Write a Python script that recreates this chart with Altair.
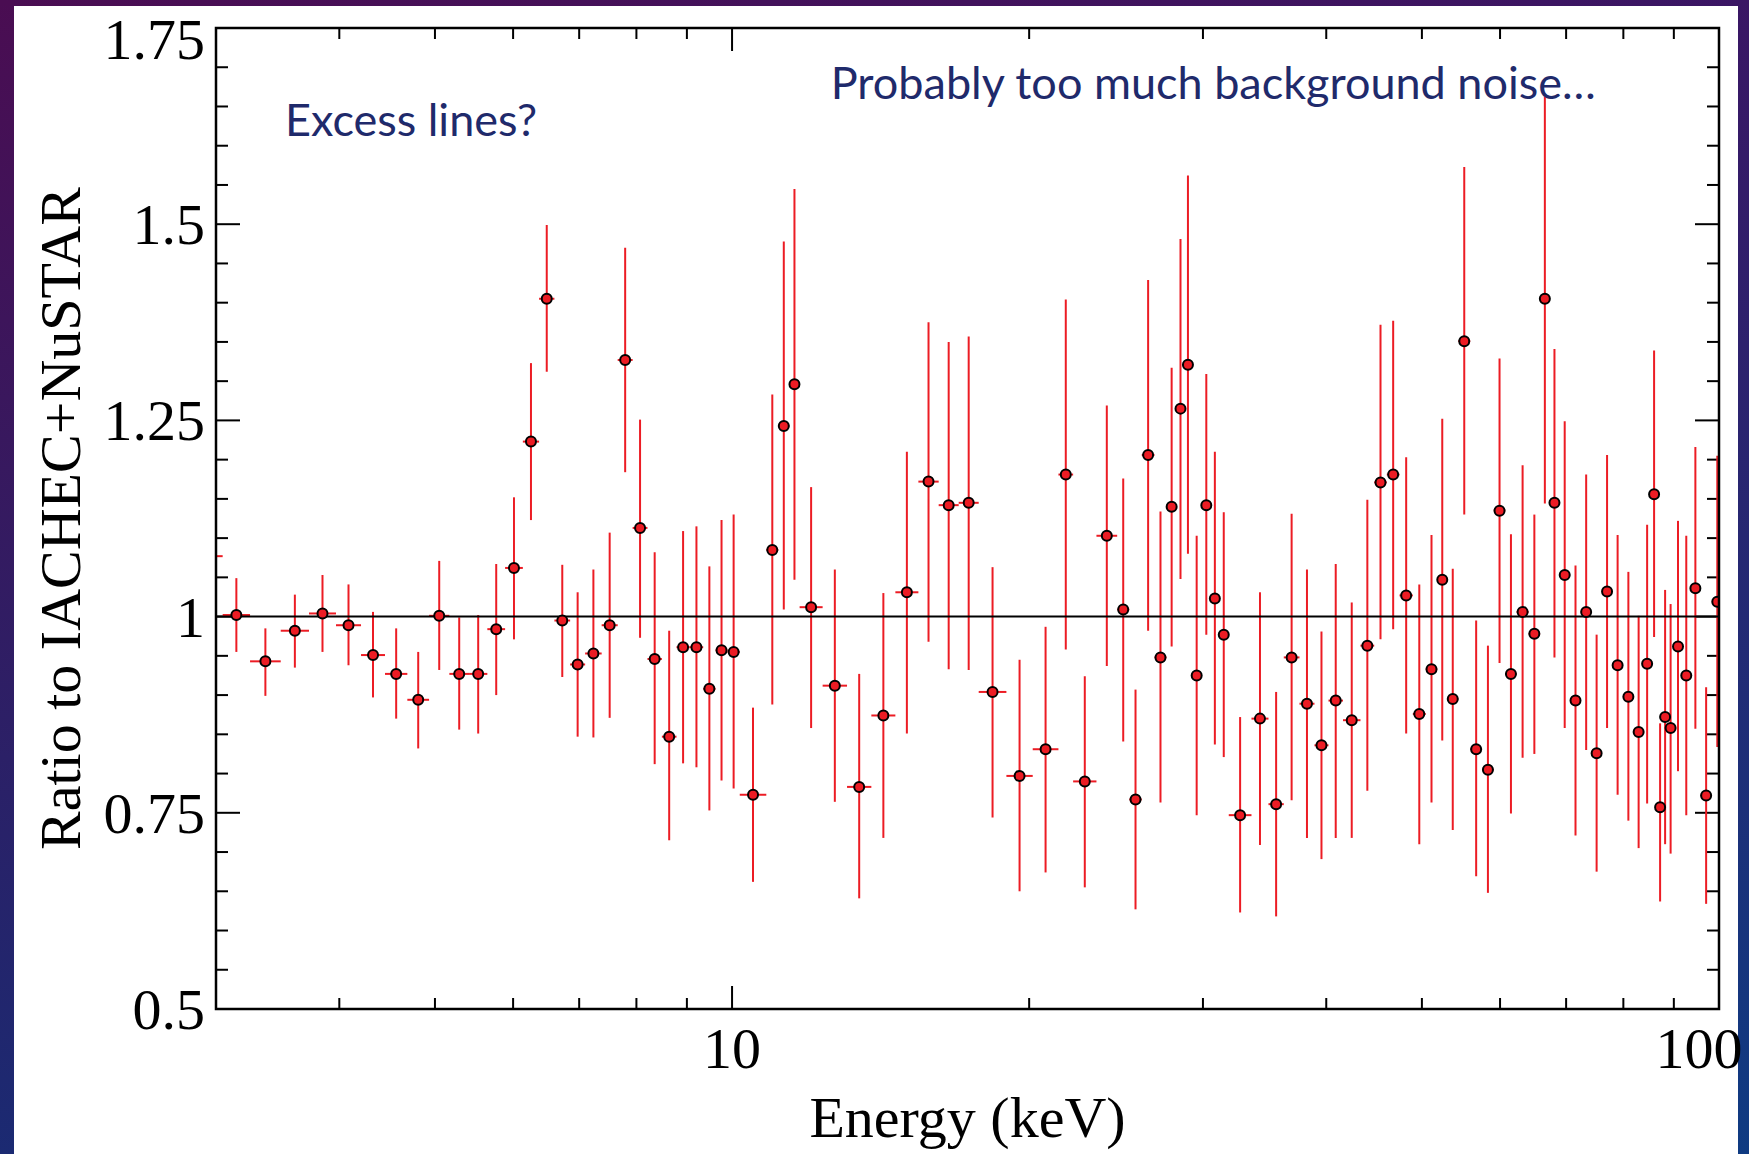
import altair as alt
import pandas as pd

# ---------------- data ----------------
# energy bin edges (keV); each point sits in the bin between two successive edges
bin_edges_kev = [
    2.863, 3.047, 3.248, 3.489, 3.727, 3.969, 4.208, 4.450, 4.688, 4.932,
    5.171, 5.414, 5.650, 5.889, 6.138, 6.375, 6.607, 6.854, 7.098, 7.377,
    7.658, 7.930, 8.209, 8.490, 8.784, 9.059, 9.349, 9.622, 9.895, 10.181,
    10.832, 11.139, 11.429, 11.707, 12.353, 13.077, 13.840, 14.638, 15.445, 16.194,
    16.968, 17.779, 18.966, 20.167, 21.414, 22.161, 23.400, 24.559, 25.262, 26.010,
    26.792, 27.554, 28.224, 28.716, 29.223, 29.909, 30.566, 31.127, 31.862, 33.596,
    34.955, 36.226, 37.577, 38.915, 40.208, 41.592, 43.325, 44.735, 46.070, 47.456,
    48.953, 50.451, 51.824, 53.048, 54.425, 55.971, 57.535, 59.129, 60.739, 62.363,
    64.133, 65.877, 67.354, 68.896, 70.654, 72.458, 74.256, 76.079, 77.966, 79.919,
    81.978, 83.836, 85.297, 86.603, 87.722, 88.649, 90.005, 91.767, 93.539, 95.749,
    98.353, 100.864,
]

ratio = [
    1.077,
    1.002, 0.943, 0.982, 1.004, 0.989, 0.951, 0.927, 0.894, 1.001, 0.927,
    0.927, 0.984, 1.062, 1.223, 1.405, 0.995, 0.939, 0.953, 0.989, 1.327,
    1.113, 0.946, 0.847, 0.961, 0.961,
    0.908, 0.957, 0.955, 0.773, 1.085, 1.243, 1.296, 1.012, 0.912, 0.783,
    0.874, 1.031, 1.172, 1.142, 1.145, 0.904, 0.797, 0.831, 1.181, 0.790,
    1.103, 1.009, 0.767, 1.206, 0.948, 1.140, 1.265, 1.321, 0.925,
    1.142, 1.023, 0.977, 0.747, 0.870, 0.761, 0.948, 0.889, 0.836, 0.893,
    0.868, 0.963, 1.171, 1.181, 1.027, 0.876, 0.933, 1.047, 0.895, 1.351,
    0.831, 0.805, 1.135, 0.927, 1.006, 0.978, 1.405, 1.145, 1.053, 0.893,
    1.006, 0.826, 1.032, 0.938, 0.898, 0.853, 0.940, 1.156, 0.757, 0.872,
    0.858, 0.962, 0.925, 1.036, 0.772, 1.019,
]

ratio_upper = [
    1.130,
    1.049, 0.985, 1.028, 1.053, 1.041, 1.006, 0.985, 0.955, 1.071, 0.999,
    1.002, 1.067, 1.152, 1.323, 1.499, 1.066, 1.031, 1.060, 1.107, 1.470,
    1.251, 1.082, 0.982, 1.109, 1.115,
    1.064, 1.123, 1.130, 0.884, 1.283, 1.478, 1.545, 1.165, 1.060, 0.927,
    1.030, 1.210, 1.375, 1.350, 1.357, 1.063, 0.945, 0.987, 1.404, 0.924,
    1.269, 1.176, 0.907, 1.429, 1.134, 1.317, 1.481, 1.562, 1.103,
    1.309, 1.210, 1.133, 0.872, 1.031, 0.904, 1.131, 1.060, 0.981, 1.067,
    1.018, 1.149, 1.372, 1.377, 1.203, 1.041, 1.104, 1.252, 1.061, 1.573,
    0.995, 0.963, 1.329, 1.105, 1.193, 1.130, 1.662, 1.341, 1.249, 1.065,
    1.181, 0.977, 1.206, 1.104, 1.057, 1.001, 1.117, 1.339, 0.864, 1.034,
    1.016, 1.122, 1.103, 1.216, 0.910, 1.205,
]

ratio_lower = [
    1.030,
    0.955, 0.899, 0.935, 0.955, 0.938, 0.897, 0.870, 0.832, 0.932, 0.856,
    0.851, 0.900, 0.971, 1.123, 1.312, 0.923, 0.847, 0.846, 0.871, 1.184,
    0.973, 0.812, 0.715, 0.813, 0.808,
    0.753, 0.791, 0.781, 0.662, 0.888, 1.009, 1.047, 0.858, 0.764, 0.641,
    0.718, 0.851, 0.968, 0.933, 0.932, 0.744, 0.650, 0.674, 0.958, 0.655,
    0.937, 0.841, 0.627, 0.982, 0.763, 0.962, 1.048, 1.080, 0.747,
    0.977, 0.837, 0.821, 0.623, 0.709, 0.618, 0.766, 0.718, 0.691, 0.718,
    0.718, 0.778, 0.971, 0.984, 0.851, 0.710, 0.763, 0.842, 0.728, 1.130,
    0.669, 0.648, 0.941, 0.749, 0.820, 0.825, 1.144, 0.948, 0.858, 0.721,
    0.830, 0.675, 0.858, 0.773, 0.740, 0.705, 0.762, 0.974, 0.637, 0.710,
    0.698, 0.803, 0.747, 0.857, 0.634, 0.834,
]

x_major_ticks = [10, 100]
x_tick_labels = ["10", "100"]
x_minor_ticks = [4, 5, 6, 7, 8, 9, 20, 30, 40, 50, 60, 70, 80, 90]
y_major_ticks = [0.5, 0.75, 1.0, 1.25, 1.5, 1.75]
y_tick_labels = ["0.5", "0.75", "1", "1.25", "1.5", "1.75"]
y_minor_ticks = [0.55, 0.6, 0.65, 0.7, 0.8, 0.85, 0.9, 0.95, 1.05, 1.1,
                 1.15, 1.2, 1.3, 1.35, 1.4, 1.45, 1.55, 1.6, 1.65, 1.7]

x_title = "Energy (keV)"
y_title = "Ratio to IACHEC+NuSTAR"
note_text = ["Excess lines?", "Probably too much background noise…"]
note_energy = [3.524, 12.59]
note_ratio = [1.613, 1.660]

# ---------------- styling / layout ----------------
W, H = 1503, 981
PAD = {"left": 216, "top": 28, "right": 30, "bottom": 145}
RED = "#ec1c24"
NAVY = "#1f2a6b"
SERIF = "Liberation Serif"
FS = 58

df = pd.DataFrame({
    "lo": bin_edges_kev[:-1],
    "hi": bin_edges_kev[1:],
    "ratio": ratio,
    "rhi": ratio_upper,
    "rlo": ratio_lower,
})
df["energy"] = (df["lo"] * df["hi"]) ** 0.5

xscale = alt.Scale(type="log", domain=[3, 100], nice=False)
yscale = alt.Scale(domain=[0.5, 1.75], nice=False, zero=False)

one = alt.Data(values=[{}])


def grad(c0, c1, vertical=True):
    return {
        "gradient": "linear", "x1": 0, "y1": 0,
        "x2": 0 if vertical else 1, "y2": 1 if vertical else 0,
        "stops": [{"offset": 0, "color": c0}, {"offset": 1, "color": c1}],
    }


# slide border strips around the white panel
left_strip = alt.Chart(one).mark_rect(fill=grad("#4a0d52", "#1b2a72")).encode(
    x=alt.value(-PAD["left"]), x2=alt.value(14 - PAD["left"]),
    y=alt.value(-PAD["top"]), y2=alt.value(H + PAD["bottom"]),
)
top_strip = alt.Chart(one).mark_rect(fill=grad("#4a0d52", "#3a1664", vertical=False)).encode(
    x=alt.value(-PAD["left"]), x2=alt.value(W + PAD["right"]),
    y=alt.value(-PAD["top"]), y2=alt.value(6 - PAD["top"]),
)
right_strip = alt.Chart(one).mark_rect(fill=grad("#3a1664", "#0f3b82")).encode(
    x=alt.value(W + PAD["right"] - 11), x2=alt.value(W + PAD["right"]),
    y=alt.value(-PAD["top"]), y2=alt.value(H + PAD["bottom"]),
)


def xticks(values, length, top):
    ch = alt.Chart(pd.DataFrame({"v": values})).mark_rule(color="black", strokeWidth=2)
    if top:
        return ch.encode(x=alt.X("v:Q", scale=xscale, axis=None),
                         y=alt.value(0), y2=alt.value(length))
    return ch.encode(x=alt.X("v:Q", scale=xscale, axis=None),
                     y=alt.value(H), y2=alt.value(H - length))


def yticks(values, length, right):
    ch = alt.Chart(pd.DataFrame({"v": values})).mark_rule(color="black", strokeWidth=2)
    if right:
        return ch.encode(y=alt.Y("v:Q", scale=yscale, axis=None),
                         x=alt.value(W), x2=alt.value(W - length))
    return ch.encode(y=alt.Y("v:Q", scale=yscale, axis=None),
                     x=alt.value(0), x2=alt.value(length))


tick_layers = [
    xticks(x_minor_ticks, 11, False), xticks(x_major_ticks, 23, False),
    xticks(x_minor_ticks, 11, True), xticks(x_major_ticks, 23, True),
    yticks(y_minor_ticks, 12, False), yticks(y_major_ticks, 24, False),
    yticks(y_minor_ticks, 12, True), yticks(y_major_ticks, 24, True),
]

# tick labels drawn as text through the same scales
xlab = pd.DataFrame({"v": x_major_ticks, "t": x_tick_labels})
xlab_inner = alt.Chart(xlab.iloc[:-1]).mark_text(
    font=SERIF, fontSize=FS, color="black", align="center", baseline="alphabetic"
).encode(x=alt.X("v:Q", scale=xscale, axis=None), y=alt.value(H + 59), text="t:N")
xlab_last = alt.Chart(xlab.iloc[-1:]).mark_text(
    font=SERIF, fontSize=FS, color="black", align="center", baseline="alphabetic", dx=-20
).encode(x=alt.X("v:Q", scale=xscale, axis=None), y=alt.value(H + 59), text="t:N")

ylab = pd.DataFrame({"v": y_major_ticks, "t": y_tick_labels})
ylab_inner = alt.Chart(ylab.iloc[:-1]).mark_text(
    font=SERIF, fontSize=FS, color="black", align="right", baseline="middle", dy=3
).encode(y=alt.Y("v:Q", scale=yscale, axis=None), x=alt.value(-11), text="t:N")
ylab_last = alt.Chart(ylab.iloc[-1:]).mark_text(
    font=SERIF, fontSize=FS, color="black", align="right", baseline="middle", dy=14
).encode(y=alt.Y("v:Q", scale=yscale, axis=None), x=alt.value(-11), text="t:N")

xtitle = alt.Chart(alt.Data(values=[{"t": x_title}])).mark_text(
    font=SERIF, fontSize=FS, color="black", align="center", baseline="alphabetic"
).encode(x=alt.value(W / 2), y=alt.value(H + 128), text="t:N")
ytitle = alt.Chart(alt.Data(values=[{"t": y_title}])).mark_text(
    font=SERIF, fontSize=FS, color="black", align="center", baseline="alphabetic", angle=270
).encode(x=alt.value(-136), y=alt.value(H / 2), text="t:N")

xerr = alt.Chart(df).mark_rule(color=RED, strokeWidth=2, clip=True).encode(
    x=alt.X("lo:Q", scale=xscale, axis=None), x2="hi:Q",
    y=alt.Y("ratio:Q", scale=yscale, axis=None),
)
yerr = alt.Chart(df).mark_rule(color=RED, strokeWidth=2, clip=True).encode(
    x=alt.X("energy:Q", scale=xscale, axis=None),
    y=alt.Y("rlo:Q", scale=yscale, axis=None), y2="rhi:Q",
)

unity = alt.Chart(alt.Data(values=[{"u": 1.0}])).mark_rule(color="black", strokeWidth=2).encode(
    y=alt.Y("u:Q", scale=yscale, axis=None), x=alt.value(0), x2=alt.value(W),
)

points = alt.Chart(df).mark_circle(
    size=100, fill=RED, stroke="black", strokeWidth=2, opacity=1, clip=True
).encode(
    x=alt.X("energy:Q", scale=xscale, axis=None),
    y=alt.Y("ratio:Q", scale=yscale, axis=None),
)

frame = alt.Chart(one).mark_rect(fillOpacity=0, stroke="black", strokeWidth=2.5).encode(
    x=alt.value(0), x2=alt.value(W), y=alt.value(0), y2=alt.value(H),
)

notes = alt.Chart(pd.DataFrame({"t": note_text, "e": note_energy, "r": note_ratio})).mark_text(
    font="Lato", fontSize=45, color=NAVY, align="left", baseline="alphabetic"
).encode(
    x=alt.X("e:Q", scale=xscale, axis=None),
    y=alt.Y("r:Q", scale=yscale, axis=None),
    text="t:N",
)

chart = alt.layer(
    left_strip, top_strip, right_strip, *tick_layers, xerr, yerr, unity, points, frame,
    xlab_inner, xlab_last, ylab_inner, ylab_last, xtitle, ytitle, notes
).properties(
    width=W, height=H, padding=PAD,
    autosize=alt.AutoSizeParams(type="none"),
    background="white",
).configure_view(stroke="transparent")

chart.save("out.html", embed_options={"renderer": "svg", "actions": False})
